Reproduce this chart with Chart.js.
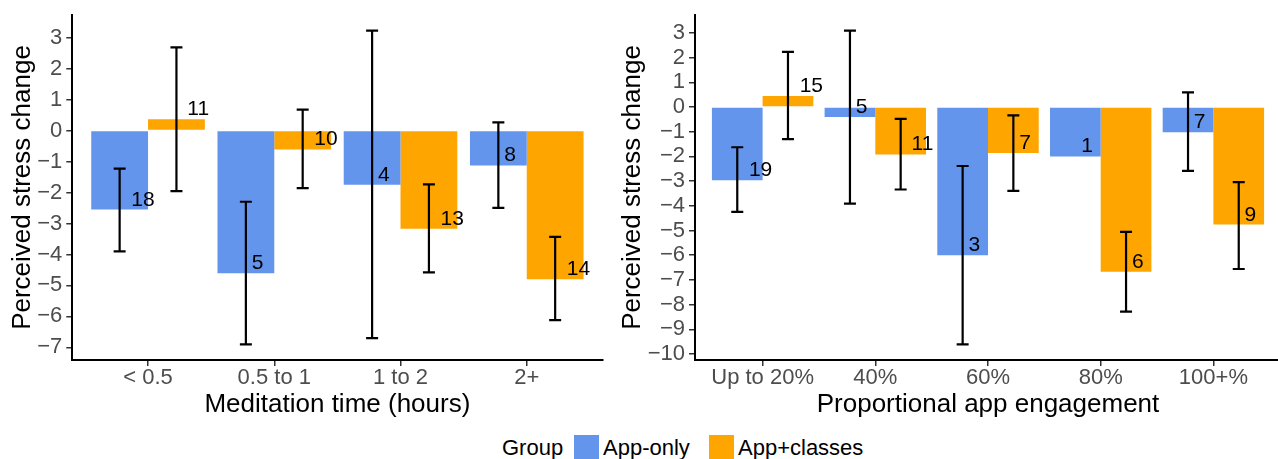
<!DOCTYPE html>
<html><head><meta charset="utf-8">
<script src="https://cdn.jsdelivr.net/npm/chart.js@4/dist/chart.umd.min.js"></script>
<style>
html,body{margin:0;padding:0;background:#fff;overflow:hidden;width:1278px;height:459px;position:relative;}
canvas{position:absolute;top:0;}
#c1{left:0;}
#c2{left:610px;}
.leg{position:absolute;font-family:"Liberation Sans",Arial,sans-serif;font-size:22px;line-height:22px;color:#000;white-space:nowrap;}
.key{position:absolute;width:25px;height:25px;}
</style></head><body>
<canvas id="c1" width="640" height="420"></canvas>
<canvas id="c2" width="672" height="420"></canvas>
<div id="legend"></div>
<script>
// ---------- data ----------
const seriesNames = ['App-only', 'App+classes'];
const seriesColors = ['#6495ED', '#FFA500'];

const medCategories = ['< 0.5', '0.5 to 1', '1 to 2', '2+'];
const medAppOnly     = [-2.55, -4.61, -1.75, -1.13];
const medAppOnlyLow  = [-3.90, -6.90, -6.70, -2.50];
const medAppOnlyHigh = [-1.23, -2.30,  3.22,  0.26];
const medAppOnlyN    = [18, 5, 4, 8];
const medClasses     = [ 0.36, -0.61, -3.17, -4.80];
const medClassesLow  = [-1.96, -1.86, -4.58, -6.12];
const medClassesHigh = [ 2.68,  0.67, -1.74, -3.43];
const medClassesN    = [11, 10, 13, 14];
const medYTicks = [3, 2, 1, 0, -1, -2, -3, -4, -5, -6, -7];

const engCategories = ['Up to 20%', '40%', '60%', '80%', '100+%'];
const engAppOnly     = [-2.97, -0.41, -6.00, -2.00, -1.02];
const engAppOnlyLow  = [-4.25, -3.91, -9.61, null, -2.59];
const engAppOnlyHigh = [-1.63,  3.09, -2.39, null,  0.59];
const engAppOnlyN    = [19, 5, 3, 1, 7];
const engClasses     = [ 0.45, -1.92, -1.86, -6.67, -4.76];
const engClassesLow  = [-1.30, -3.34, -3.40, -8.29, -6.56];
const engClassesHigh = [ 2.23, -0.48, -0.34, -5.06, -3.04];
const engClassesN    = [15, 11, 7, 6, 9];
const engYTicks = [3, 2, 1, 0, -1, -2, -3, -4, -5, -6, -7, -8, -9, -10];

const yTitle = 'Perceived stress change';
const medXTitle = 'Meditation time (hours)';
const engXTitle = 'Proportional app engagement';
const legendTitle = 'Group';

// ---------- drawing ----------
const FONT = '"Liberation Sans", Arial, sans-serif';
Chart.defaults.font.family = FONT;
Chart.defaults.animation = false;

function yLimits(arrs) {
  const all = arrs.flat().filter(v => v != null);
  const mn = Math.min(...all), mx = Math.max(...all);
  const pad = (mx - mn) * 0.05;
  return [mn - pad, mx + pad];
}
const fmt = v => v < 0 ? '\u2212' + Math.abs(v) : String(v);

const errPlugin = {
  id: 'errLabels',
  afterDatasetsDraw(chart) {
    const ctx = chart.ctx, ys = chart.scales.y;
    chart.data.datasets.forEach((ds, d) => {
      const meta = chart.getDatasetMeta(d);
      meta.data.forEach((bar, i) => {
        const x = bar.x;
        const lo = ds.errLow[i], hi = ds.errHigh[i];
        ctx.save();
        if (lo != null && hi != null) {
          const yl = ys.getPixelForValue(lo), yh = ys.getPixelForValue(hi);
          ctx.strokeStyle = '#000';
          ctx.lineWidth = 2.2;
          ctx.beginPath();
          ctx.moveTo(x, yh); ctx.lineTo(x, yl);
          ctx.moveTo(x - 6, yh); ctx.lineTo(x + 6, yh);
          ctx.moveTo(x - 6, yl); ctx.lineTo(x + 6, yl);
          ctx.stroke();
        }
        const txt = String(ds.counts[i]);
        ctx.font = '21px ' + FONT;
        ctx.fillStyle = '#000';
        ctx.textAlign = 'left';
        ctx.textBaseline = 'alphabetic';
        const w = ctx.measureText(txt).width;
        ctx.fillText(txt, x + w * 0.5, ys.getPixelForValue(ds.data[i].y) - 4);
        ctx.restore();
      });
    });
  }
};

function makeChart(id, cats, series, yTicks, xTitle, geo) {
  const [ymin, ymax] = yLimits(series.flatMap(s => [s.v, s.lo, s.hi]));
  const toXY = arr => arr.map((v, i) => ({x: i, y: v}));
  const axisGrid = {display: true, drawOnChartArea: false, drawTicks: true, tickLength: 6,
                    tickColor: '#333333', lineWidth: 1.5, offset: false};
  return new Chart(document.getElementById(id), {
    type: 'bar',
    data: {
      datasets: series.map((s, k) => ({
        label: seriesNames[k], data: toXY(s.v), backgroundColor: seriesColors[k],
        borderWidth: 0, errLow: s.lo, errHigh: s.hi, counts: s.n
      }))
    },
    options: {
      responsive: false, animation: false, events: [],
      categoryPercentage: 0.9, barPercentage: 1.0,
      layout: {padding: {left: 0, top: geo.top, right: geo.right, bottom: 0}},
      plugins: {legend: {display: false}, tooltip: {enabled: false}},
      scales: {
        x: {
          type: 'linear', min: -0.6, max: cats.length - 0.4, offset: false,
          afterFit: s => { s.height = geo.xh; s.paddingLeft = 0; s.paddingRight = 0; },
          afterBuildTicks: s => { s.ticks = cats.map((c, i) => ({value: i})); },
          ticks: {autoSkip: false, maxRotation: 0, color: '#4D4D4D', font: {size: 22},
                  padding: geo.xpad, callback: v => cats[v]},
          grid: axisGrid,
          border: {display: true, color: '#000', width: 2},
          title: {display: true, text: xTitle, color: '#000', font: {size: 26}, padding: {top: 0, bottom: 0}}
        },
        y: {
          type: 'linear', min: ymin, max: ymax,
          afterFit: s => { s.width = geo.yw; s.paddingTop = 0; s.paddingBottom = 0; },
          afterBuildTicks: s => { s.ticks = yTicks.map(v => ({value: v})); },
          ticks: {autoSkip: false, color: '#4D4D4D', font: {size: 22}, padding: 4, callback: fmt},
          grid: axisGrid,
          border: {display: true, color: '#000', width: 2},
          title: {display: true, text: yTitle, color: '#000', font: {size: 26}, padding: {top: geo.ytpad, bottom: 0}}
        }
      }
    },
    plugins: [errPlugin]
  });
}

makeChart('c1', medCategories, [
  {v: medAppOnly, lo: medAppOnlyLow, hi: medAppOnlyHigh, n: medAppOnlyN},
  {v: medClasses, lo: medClassesLow, hi: medClassesHigh, n: medClassesN}
], medYTicks, medXTitle, {top: 15, right: 37.5, yw: 72.3, xh: 60, xpad: -1, ytpad: 7});

makeChart('c2', engCategories, [
  {v: engAppOnly, lo: engAppOnlyLow, hi: engAppOnlyHigh, n: engAppOnlyN},
  {v: engClasses, lo: engClassesLow, hi: engClassesHigh, n: engClassesN}
], engYTicks, engXTitle, {top: 15, right: 1, yw: 85, xh: 60, xpad: -1, ytpad: 7.4});

// legend
const leg = document.getElementById('legend');
function addEl(cls, left, top, text, color) {
  const e = document.createElement('div');
  e.className = cls;
  e.style.left = left + 'px';
  e.style.top = top + 'px';
  if (text) e.textContent = text;
  if (color) e.style.background = color;
  leg.appendChild(e);
}
addEl('leg', 502, 437, legendTitle);
const keyLefts = [574, 709];
seriesNames.forEach((name, k) => {
  addEl('key', keyLefts[k], 435, null, seriesColors[k]);
  addEl('leg', keyLefts[k] + 29, 437, name);
});
</script>
</body></html>
